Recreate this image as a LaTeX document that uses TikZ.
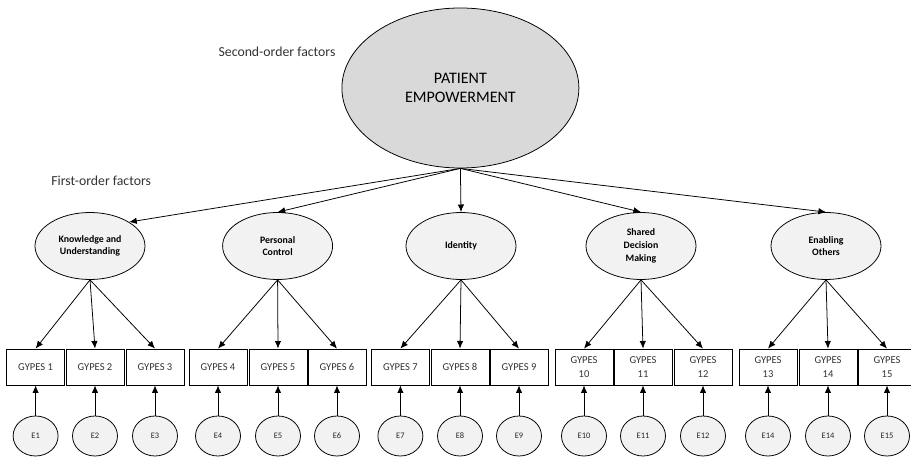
\documentclass[tikz,border=0pt]{standalone}
\usepackage{fontspec}
\setmainfont{Carlito}
\usetikzlibrary{arrows.meta,shapes.geometric}

\tikzset{
  secfac/.style={draw,ellipse,fill=black!15,minimum width=5.925cm,minimum height=4.0cm,align=center,font=\fontsize{11.4}{14}\selectfont},
  firstfac/.style={draw,ellipse,fill=black!5,minimum width=2.75cm,minimum height=1.675cm,align=center,font=\fontsize{7}{9}\selectfont\bfseries},
  item/.style={draw,rectangle,fill=white,minimum width=1.45cm,minimum height=0.9cm,inner sep=1pt,align=center,font=\fontsize{7.5}{10}\selectfont,text=black!80},
  err/.style={draw,ellipse,fill=black!5,minimum width=1.125cm,minimum height=1.0cm,inner sep=0pt,font=\fontsize{6}{7}\selectfont,text=black!85},
  lbl/.style={font=\fontsize{9.8}{11}\selectfont,text=black!80}
}

\begin{document}
\begin{tikzpicture}[line width=0.55pt,>={Latex[length=1.9mm,width=1.6mm]}]
  \useasboundingbox (0,0) rectangle (22.775,11.425);
  % factor de segundo orden
  \node[secfac] (pe) at (11.51,9.225){PATIENT\\EMPOWERMENT};
  \node[lbl] (sotxt) at (6.925,10.125){Second-order factors};
  \node[lbl] (fotxt) at (2.53,6.9){First-order factors};
  % factores de primer orden
  \node[firstfac] (ku) at (2.25,5.275){Knowledge and\\Understanding};
  \node[firstfac] (pc) at (6.94,5.275){Personal\\Control};
  \node[firstfac] (id) at (11.525,5.275){Identity};
  \node[firstfac] (sd) at (16.025,5.275){Shared\\Decision\\Making};
  \node[firstfac] (eo) at (20.65,5.275){Enabling\\Others};
  \draw[->] (pe.south)--(ku.north east);
  \draw[->] (pe.south)--(pc.north);
  \draw[->] (pe.south)--(id.north);
  \draw[->] (pe.south)--(sd.north);
  \draw[->] (pe.south)--(eo.north);
  % items
  \node[item] (g1) at (0.89,2.25){GYPES 1}; \node[item] (g2) at (2.375,2.25){GYPES 2}; \node[item] (g3) at (3.875,2.25){GYPES 3};
  \node[item] (g4) at (5.45,2.25){GYPES 4}; \node[item] (g5) at (6.95,2.25){GYPES 5}; \node[item] (g6) at (8.425,2.25){GYPES 6};
  \node[item] (g7) at (10.01,2.25){GYPES 7}; \node[item] (g8) at (11.5,2.25){GYPES 8}; \node[item] (g9) at (12.975,2.25){GYPES 9};
  \node[item] (g10) at (14.6,2.25){GYPES\\10}; \node[item] (g11) at (16.075,2.25){GYPES\\11}; \node[item] (g12) at (17.575,2.25){GYPES\\12};
  \node[item] (g13) at (19.2,2.25){GYPES\\13}; \node[item] (g14) at (20.7,2.25){GYPES\\14}; \node[item] (g15) at (22.175,2.25){GYPES\\15};
  \draw[->] (ku.south)--(g1.north); \draw[->] (ku.south)--(g2.north); \draw[->] (ku.south)--(g3.north);
  \draw[->] (pc.south)--(g4.north); \draw[->] (pc.south)--(g5.north); \draw[->] (pc.south)--(g6.north);
  \draw[->] (id.south)--(g7.north); \draw[->] (id.south)--(g8.north); \draw[->] (id.south)--(g9.north);
  \draw[->] (sd.south)--(g10.north); \draw[->] (sd.south)--(g11.north); \draw[->] (sd.south)--(g12.north);
  \draw[->] (eo.south)--(g13.north); \draw[->] (eo.south)--(g14.north); \draw[->] (eo.south)--(g15.north);
  % errores
  \node[err] (e1) at (0.89,0.525){E1}; \node[err] (e2) at (2.375,0.525){E2}; \node[err] (e3) at (3.875,0.525){E3};
  \node[err] (e4) at (5.45,0.525){E4}; \node[err] (e5) at (6.95,0.525){E5}; \node[err] (e6) at (8.425,0.525){E6};
  \node[err] (e7) at (10.01,0.525){E7}; \node[err] (e8) at (11.5,0.525){E8}; \node[err] (e9) at (12.975,0.525){E9};
  \node[err] (e10) at (14.6,0.525){E10}; \node[err] (e11) at (16.075,0.525){E11}; \node[err] (e12) at (17.575,0.525){E12};
  \node[err] (e13) at (19.2,0.525){E14}; \node[err] (e14) at (20.7,0.525){E14}; \node[err] (e15) at (22.175,0.525){E15};
  \draw[->] (e1)--(g1); \draw[->] (e2)--(g2); \draw[->] (e3)--(g3);
  \draw[->] (e4)--(g4); \draw[->] (e5)--(g5); \draw[->] (e6)--(g6);
  \draw[->] (e7)--(g7); \draw[->] (e8)--(g8); \draw[->] (e9)--(g9);
  \draw[->] (e10)--(g10); \draw[->] (e11)--(g11); \draw[->] (e12)--(g12);
  \draw[->] (e13)--(g13); \draw[->] (e14)--(g14); \draw[->] (e15)--(g15);
\end{tikzpicture}
\end{document}
